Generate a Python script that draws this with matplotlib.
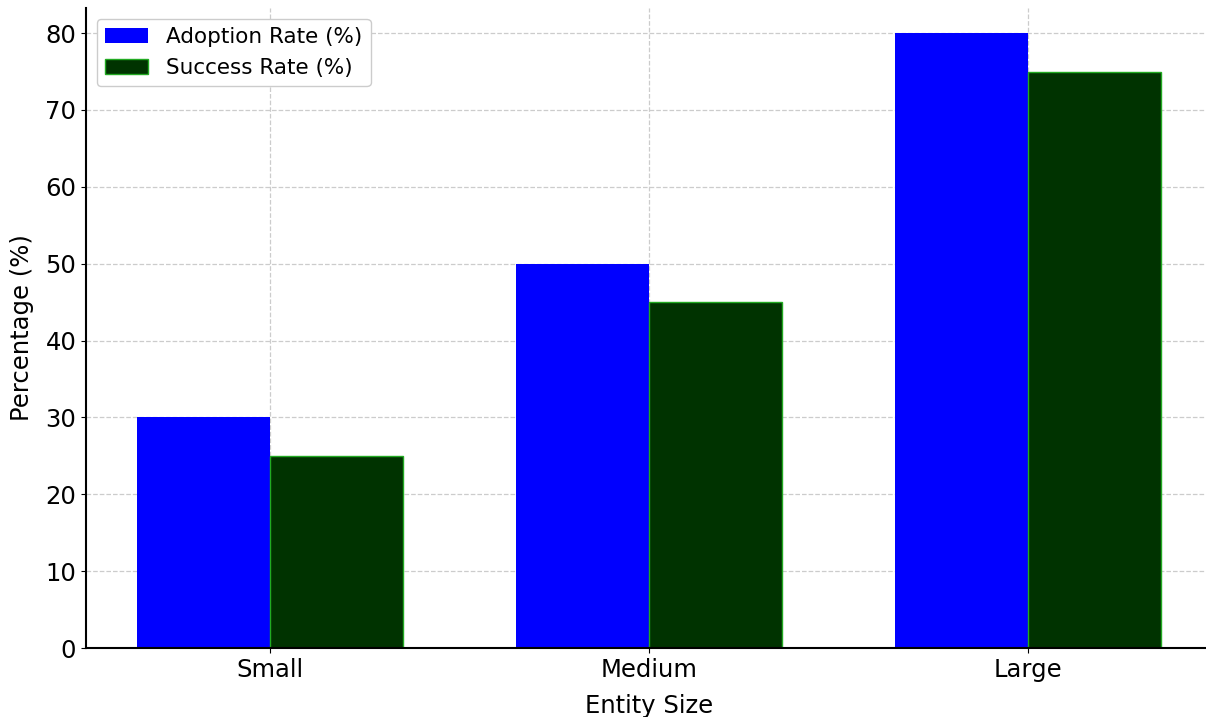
import numpy as np
import matplotlib
matplotlib.use("Agg")
import matplotlib.pyplot as plt

# data
categories = ['Small', 'Medium', 'Large']
adoption_rate = [30, 50, 80]
success_rate = [25, 45, 75]

x = np.arange(len(categories))
width = 0.35

fig = plt.figure(figsize=(12.06, 7.17), dpi=100)
# right edge runs a few pixels past the image, as in the reference
ax = fig.add_axes([0.0713, 0.0962, 0.9337, 0.893])

ax.bar(x - width / 2, adoption_rate, width, color='blue', label='Adoption Rate (%)', zorder=2)
ax.bar(x + width / 2, success_rate, width, color='#003300', edgecolor='#22aa22',
       linewidth=1, label='Success Rate (%)', zorder=2)

ax.set_xticks(x)
ax.set_xticklabels(categories, fontsize=17.5)
ax.tick_params(axis='y', labelsize=17.5)
ax.set_xlabel('Entity Size', fontsize=17.5, labelpad=9)
ax.set_ylabel('Percentage (%)', fontsize=17.5, labelpad=8)
ax.set_ylim(0, 83.3)

ax.grid(True, linestyle='--', color='#cccccc', linewidth=0.9, zorder=0)
ax.set_axisbelow(True)
ax.spines['top'].set_visible(False)
ax.spines['right'].set_visible(False)
ax.spines['left'].set_linewidth(1.5)
ax.spines['bottom'].set_linewidth(1.5)

ax.legend(loc='upper left', fontsize=15.5, framealpha=1)

fig.savefig('out.png', dpi=100)
